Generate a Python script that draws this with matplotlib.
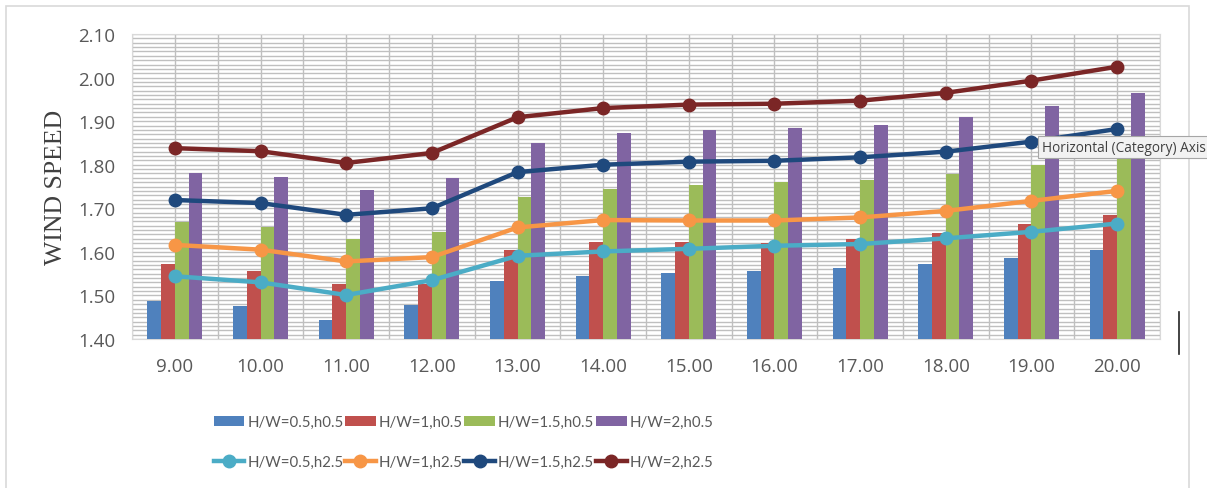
import numpy as np
import matplotlib.pyplot as plt
from matplotlib.patches import Rectangle
from matplotlib.ticker import MultipleLocator, FixedLocator, NullFormatter

# categories (hour of day)
hours = ['9.00', '10.00', '11.00', '12.00', '13.00', '14.00',
         '15.00', '16.00', '17.00', '18.00', '19.00', '20.00']

# bars: h = 0.5
hw05_h05 = [1.487, 1.475, 1.444, 1.478, 1.532, 1.545, 1.551, 1.557, 1.562, 1.572, 1.586, 1.605]
hw1_h05 = [1.571, 1.557, 1.526, 1.527, 1.605, 1.623, 1.623, 1.620, 1.630, 1.643, 1.664, 1.685]
hw15_h05 = [1.668, 1.658, 1.630, 1.646, 1.727, 1.744, 1.753, 1.760, 1.765, 1.779, 1.799, 1.825]
hw2_h05 = [1.781, 1.772, 1.743, 1.770, 1.850, 1.872, 1.880, 1.884, 1.891, 1.910, 1.934, 1.964]

# lines: h = 2.5
hw05_h25 = [1.544, 1.530, 1.501, 1.535, 1.591, 1.601, 1.607, 1.614, 1.618, 1.631, 1.646, 1.665]
hw1_h25 = [1.616, 1.605, 1.578, 1.588, 1.656, 1.673, 1.672, 1.672, 1.679, 1.694, 1.717, 1.740]
hw15_h25 = [1.719, 1.712, 1.685, 1.700, 1.783, 1.800, 1.807, 1.809, 1.817, 1.830, 1.853, 1.882]
hw2_h25 = [1.838, 1.831, 1.804, 1.827, 1.909, 1.930, 1.938, 1.940, 1.947, 1.965, 1.993, 2.025]

bar_series = [hw05_h05, hw1_h05, hw15_h05, hw2_h05]
bar_labels = ['H/W=0.5,h0.5', 'H/W=1,h0.5', 'H/W=1.5,h0.5', 'H/W=2,h0.5']
bar_colors = ['#4F81BD', '#C0504D', '#9BBB59', '#8064A2']

line_series = [hw05_h25, hw1_h25, hw15_h25, hw2_h25]
line_labels = ['H/W=0.5,h2.5', 'H/W=1,h2.5', 'H/W=1.5,h2.5', 'H/W=2,h2.5']
line_colors = ['#4BACC6', '#F79646', '#1F497D', '#7B2626']

text_col = '#595959'
grid_col = '#BFBFBF'

fig = plt.figure(figsize=(12.07, 4.89), dpi=100)
fig.patches.append(Rectangle((0.005, -0.01), 0.98, 0.995, transform=fig.transFigure,
                             fill=False, edgecolor='#D9D9D9', linewidth=1.2))
ax = fig.add_axes([0.1094, 0.3047, 0.8516, 0.6237])

x = np.arange(len(hours))
bw = 0.16
bar_h = []
for i, (vals, lab, col) in enumerate(zip(bar_series, bar_labels, bar_colors)):
    b = ax.bar(x + (i - 1.5) * bw, np.array(vals) - 1.40, bw, bottom=1.40,
               color=col, label=lab, zorder=3)
    bar_h.append(b)

line_h = []
for vals, lab, col in zip(line_series, line_labels, line_colors):
    l, = ax.plot(x, vals, color=col, lw=3.2, marker='o', ms=9, label=lab, zorder=4)
    line_h.append(l)

ax.set_xlim(-0.5, len(hours) - 0.5)
ax.set_ylim(1.40, 2.10)
ax.yaxis.set_minor_locator(MultipleLocator(0.01))
ax.set_yticks(np.arange(1.40, 2.101, 0.10))
ax.set_yticklabels([f'{v:.2f}' for v in np.arange(1.40, 2.101, 0.10)])
ax.set_xticks(x)
ax.set_xticklabels(hours)
ax.xaxis.set_minor_locator(FixedLocator(np.arange(-0.5, len(hours), 1.0)))
ax.xaxis.set_minor_formatter(NullFormatter())

ax.grid(which='both', axis='both', color=grid_col, lw=1.0, zorder=0)
ax.set_axisbelow(True)
ax.tick_params(which='both', length=0)
ax.tick_params(axis='y', labelsize=13.5, labelcolor=text_col, pad=12)
ax.tick_params(axis='x', labelsize=13.5, labelcolor=text_col, pad=13)
for lbl in ax.get_xticklabels() + ax.get_yticklabels():
    lbl.set_family('Open Sans')
for s in ax.spines.values():
    s.set_color('#D9D9D9')

ax.set_ylabel('WIND SPEED', family='Liberation Serif', fontsize=18.5,
              color='#404040', labelpad=8)

# legend filled column by column: bars on row one, lines on row two
handles, labels = [], []
for b, l, bl, ll in zip(bar_h, line_h, bar_labels, line_labels):
    handles += [b, l]
    labels += [bl, ll]
leg = fig.legend(handles, labels, loc='center', bbox_to_anchor=(0.384, 0.094),
                 ncol=4, frameon=False, handlelength=2.05, handletextpad=0.2,
                 columnspacing=0.1, labelspacing=1.72,
                 prop={'family': 'Lato', 'size': 10.8})
for t in leg.get_texts():
    t.set_color(text_col)

# tooltip left in the reference screenshot
fig.text(0.863, 0.697, 'Horizontal (Category) Axis', fontsize=9.8, color='#404040',
         family='Open Sans', va='center',
         bbox=dict(boxstyle='square,pad=0.25', fc='#F2F2F2', ec='#A6A6A6', lw=0.8))
fig.add_artist(plt.Line2D([0.9765, 0.9765], [0.275, 0.36], color='#222222', lw=1.2))

fig.savefig('out.png', dpi=100)
